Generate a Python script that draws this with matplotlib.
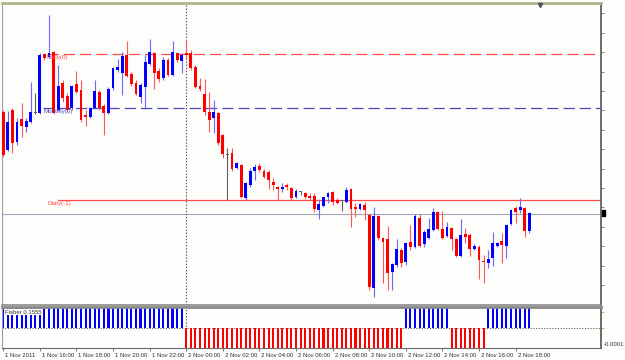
import numpy as np
import matplotlib
matplotlib.use("Agg")
import matplotlib.pyplot as plt
import matplotlib.transforms as mtrans
from matplotlib.patches import Rectangle

plt.rcParams['font.family'] = ['Liberation Sans', 'DejaVu Sans']

# EURUSD M15, 1 Nov 2011 14:00 -> 2 Nov 2011 18:45, prices in points (1.xxxx * 10000)
opens = [13788, 13750, 13790, 13758, 13781, 13773, 13778, 13787, 13787, 13846,
         13843, 13848, 13790, 13817, 13804, 13792, 13816, 13810, 13785, 13783,
         13792, 13808, 13794, 13787, 13812, 13830, 13827, 13845, 13826, 13817,
         13803, 13813, 13836, 13847, 13829, 13822, 13840, 13825, 13847, 13839,
         13847, 13847, 13833, 13814, 13806, 13788, 13782, 13787, 13765, 13745,
         13747, 13732, 13735, 13702, 13715, 13729, 13734, 13729, 13728, 13718,
         13713, 13711, 13715, 13712, 13703, 13708, 13707, 13704, 13704, 13690,
         13694, 13703, 13708, 13700, 13699, 13698, 13711, 13693, 13691, 13695,
         13685, 13612, 13684, 13662, 13661, 13628, 13635, 13650, 13638, 13658,
         13653, 13682, 13656, 13662, 13670, 13688, 13671, 13664, 13672, 13661,
         13644, 13666, 13665, 13651, 13653, 13639, 13637, 13642, 13654, 13659,
         13654, 13676, 13692, 13690, 13692, 13669]
highs = [13790, 13789, 13792, 13782, 13797, 13782, 13818, 13807, 13847, 13847,
         13885, 13849, 13835, 13820, 13807, 13815, 13829, 13820, 13790, 13793,
         13820, 13810, 13796, 13813, 13833, 13841, 13848, 13859, 13828, 13820,
         13817, 13845, 13861, 13848, 13832, 13843, 13842, 13859, 13848, 13847,
         13860, 13850, 13835, 13822, 13821, 13808, 13800, 13788, 13766, 13752,
         13752, 13738, 13736, 13718, 13732, 13736, 13737, 13731, 13730, 13722,
         13714, 13717, 13717, 13713, 13711, 13709, 13708, 13707, 13707, 13700,
         13703, 13708, 13709, 13702, 13700, 13713, 13712, 13697, 13697, 13698,
         13686, 13693, 13685, 13663, 13674, 13637, 13661, 13652, 13658, 13675,
         13686, 13686, 13670, 13682, 13692, 13689, 13689, 13678, 13673, 13662,
         13681, 13672, 13667, 13656, 13655, 13645, 13650, 13668, 13658, 13667,
         13675, 13691, 13694, 13702, 13693, 13688]
lows = [13743, 13749, 13747, 13755, 13763, 13768, 13777, 13786, 13786, 13840,
        13842, 13786, 13789, 13798, 13788, 13790, 13807, 13778, 13774, 13782,
        13791, 13790, 13765, 13786, 13810, 13828, 13805, 13823, 13814, 13805,
        13797, 13791, 13835, 13811, 13818, 13820, 13824, 13824, 13838, 13827,
        13842, 13830, 13812, 13809, 13785, 13768, 13767, 13755, 13742, 13700,
        13729, 13731, 13702, 13700, 13713, 13720, 13728, 13722, 13711, 13710,
        13700, 13708, 13710, 13700, 13702, 13705, 13701, 13700, 13688, 13681,
        13693, 13697, 13695, 13696, 13689, 13697, 13673, 13683, 13690, 13680,
        13610, 13603, 13660, 13617, 13610, 13610, 13633, 13633, 13635, 13650,
        13652, 13653, 13653, 13661, 13669, 13670, 13661, 13663, 13650, 13643,
        13643, 13657, 13644, 13650, 13621, 13617, 13632, 13634, 13653, 13637,
        13642, 13675, 13677, 13687, 13663, 13667]
closes = [13745, 13778, 13757, 13778, 13774, 13779, 13788, 13787, 13845, 13842,
          13847, 13787, 13814, 13802, 13790, 13814, 13808, 13780, 13783, 13792,
          13809, 13792, 13787, 13811, 13832, 13833, 13844, 13824, 13816, 13806,
          13815, 13838, 13848, 13827, 13821, 13840, 13825, 13848, 13840, 13845,
          13845, 13832, 13813, 13811, 13788, 13780, 13788, 13757, 13746, 13745,
          13731, 13737, 13703, 13717, 13729, 13733, 13730, 13723, 13720, 13715,
          13711, 13713, 13713, 13702, 13709, 13708, 13703, 13702, 13691, 13696,
          13703, 13707, 13698, 13697, 13699, 13710, 13691, 13691, 13696, 13690,
          13613, 13684, 13662, 13658, 13627, 13636, 13651, 13637, 13657, 13653,
          13684, 13654, 13668, 13671, 13688, 13671, 13662, 13673, 13661, 13644,
          13665, 13663, 13651, 13654, 13640, 13638, 13641, 13657, 13657, 13655,
          13675, 13690, 13688, 13693, 13669, 13687]

# Fisher histogram (sign per bar)
fisher = [1, 1, 1, 1, 1, 1, 1, 1, 1, 1, 1, 1, 1, 1, 1, 1, 1, 1, 1, 1,
          1, 1, 1, 1, 1, 1, 1, 1, 1, 1, 1, 1, 1, 1, 1, 1, 1, 1, 1, 1,
          -1, -1, -1, -1, -1, -1, -1, -1, -1, -1, -1, -1, -1, -1, -1, -1,
          -1, -1, -1, -1, -1, -1, -1, -1, -1, -1, -1, -1, -1, -1, -1, -1,
          -1, -1, -1, -1, -1, -1, -1, -1, -1, -1, -1, -1, -1, -1, -1, -1,
          1, 1, 1, 1, 1, 1, 1, 1, 1, 1,
          -1, -1, -1, -1, -1, -1, -1, -1,
          1, 1, 1, 1, 1, 1, 1, 1, 1, 1]

level_names = ["Daily(0)", "Monthly(0)", "Daily(-1)"]
level_prices = [1.3846, 1.3792, 1.3700]
level_start = [9.5, 8.7, 12.0]
level_label_x = [9.5, 8.7, 9.6]
level_colors = ['#ff4a4a', '#4848c0', '#ff4a4a']
bid = 1.3686

tick_bars = [0, 8, 16, 24, 32, 40, 48, 56, 64, 72, 80, 88, 96, 104, 112]
tick_labels = ["1 Nov 2011", "1 Nov 16:00", "1 Nov 18:00", "1 Nov 20:00", "1 Nov 22:00",
               "2 Nov 00:00", "2 Nov 02:00", "2 Nov 04:00", "2 Nov 06:00", "2 Nov 08:00",
               "2 Nov 10:00", "2 Nov 12:00", "2 Nov 14:00", "2 Nov 16:00", "2 Nov 18:00"]

o = np.array(opens) / 10000
h = np.array(highs) / 10000
l = np.array(lows) / 10000
c = np.array(closes) / 10000
x = np.arange(len(o))

W, H = 625, 360
bg = '#fdfdfb'
fig = plt.figure(figsize=(6.25, 3.6), dpi=100, facecolor=bg)

def box(x0, y0, x1, y1):
    return [x0 / W, 1 - y1 / H, (x1 - x0) / W, (y1 - y0) / H]

ax = fig.add_axes(box(2, 3, 601, 305))
ax2 = fig.add_axes(box(2, 307, 601, 348), sharex=ax)
for a in (ax, ax2):
    a.set_facecolor(bg)

body_col = np.where(c > o, '#0000ff', np.where(c < o, '#ff0000', '#606060'))
wick_col = np.where(c > o, '#6a6aff', np.where(c < o, '#ff5a5a', '#606060'))
ax.vlines(x, l, h, colors=wick_col, lw=0.8, zorder=2)
bot = np.minimum(o, c)
hgt = np.maximum(np.abs(c - o), 0.00008)
ax.bar(x, hgt, bottom=bot, width=0.62, color=body_col, linewidth=0, zorder=3)

# levels
xmax = 131
for name, p, s, lx, col in zip(level_names, level_prices, level_start, level_label_x, level_colors):
    if name == "Daily(-1)":
        ax.plot([s, xmax], [p, p], color=col, lw=0.9, zorder=1)
    else:
        ax.plot([s, xmax], [p, p], color=col, lw=0.9, dashes=(9, 4), zorder=1)
    ax.text(lx, p - 0.00012, name, color=col, fontsize=4.5, ha='left', va='top', zorder=4)

ax.axhline(bid, color='#a4a4bc', lw=0.8, zorder=1)
ax.axvline(40, color='#505050', lw=0.8, ls=(0, (1.2, 1.6)), zorder=1)

ax.set_xlim(-0.28, 130.67)
ax.set_ylim(1.3595, 1.3897)
ax.yaxis.tick_right()
ax.set_yticks(np.arange(1.38867, 1.3600, -0.00194))
ax.tick_params(axis='y', direction='out', length=2, width=0.6, color='#707070', labelright=False)
ax.tick_params(axis='x', length=0, labelbottom=False)

ax.spines['top'].set_color('#b4b48c')
ax.spines['top'].set_linewidth(2)
ax.spines['left'].set_color('#a0a0a0')
ax.spines['right'].set_color('#6a6a6a')
ax.spines['right'].set_linewidth(1.4)
ax.spines['bottom'].set_color('#8a8a8a')
ax.spines['bottom'].set_linewidth(1.2)

# shift marker + price stub
ax.plot(117.3, 0.993, marker='v', color='#505050', ms=3, transform=ax.get_xaxis_transform(),
        clip_on=False, zorder=5)
fig.patches.append(Rectangle((601.5 / W, 1 - 216 / H), 3 / W, 6 / H, transform=fig.transFigure,
                             color='black'))

# Fisher pane
ax2.bar(x, fisher, width=0.45, color=['#0000ff' if v > 0 else '#ff0000' for v in fisher],
        linewidth=0, zorder=2)
ax2.axhline(0, color='#606060', lw=0.7, ls=(0, (1.2, 1.6)), zorder=1)
ax2.axvline(40, color='#505050', lw=0.8, ls=(0, (1.2, 1.6)), zorder=1)
ax2.set_ylim(-1.0, 1.05)
ax2.yaxis.tick_right()
ax2.set_yticks([0, 0.8])
ax2.tick_params(axis='y', direction='out', length=2, width=0.6, color='#e0a050', labelright=False)
ax2.text(0.005, 0.93, "Fisher 0.1555", transform=ax2.transAxes, fontsize=4.3, color='#303030',
         ha='left', va='top', zorder=4,
         bbox=dict(facecolor='white', edgecolor='none', pad=0.3))
ax2.text(1.004, 0.08, "-0.0001", transform=ax2.transAxes, fontsize=4.3, color='#303030',
         ha='left', va='center')

ax2.set_xticks(tick_bars)
ax2.set_xticklabels(tick_labels, fontsize=4.3, color='#303030')
ax2.tick_params(axis='x', direction='out', length=2.2, width=0.6, color='#606060', pad=1.5)
off = mtrans.ScaledTranslation(2 / 100, 0, fig.dpi_scale_trans)
for lab in ax2.get_xticklabels():
    lab.set_ha('left')
    lab.set_transform(lab.get_transform() + off)

ax2.spines['top'].set_color('#8a8a8a')
ax2.spines['top'].set_linewidth(2)
ax2.spines['left'].set_color('#a0a0a0')
ax2.spines['right'].set_color('#6a6a6a')
ax2.spines['right'].set_linewidth(1.4)
ax2.spines['bottom'].set_color('#6a6a6a')

fig.savefig('out.png', dpi=100, facecolor=bg)
